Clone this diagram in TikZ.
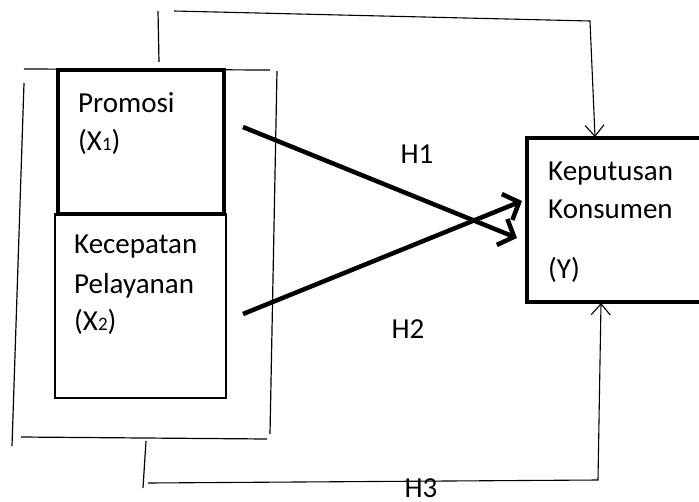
\documentclass[tikz,border=0pt]{standalone}
\usepackage{fontspec}
\setmainfont{Carlito}
\usetikzlibrary{arrows.meta}
\begin{document}
\begin{tikzpicture}[x=1pt,y=-1pt,
  lbl/.style={anchor=base west, inner sep=0pt, font=\fontsize{29}{35}\selectfont},
  hlbl/.style={anchor=base, inner sep=0pt, font=\fontsize{29}{35}\selectfont},
  thinline/.style={line width=1.2pt},
  bigarrow/.style={line width=4.5pt, -{Straight Barb[length=13pt,width=28pt,line width=4.5pt]}},
  thinarrow/.style={line width=1.1pt, -{Straight Barb[length=11pt,width=19pt,line width=1.1pt]}},
  varbox/.style={draw, rectangle, inner sep=0pt, outer sep=0pt}
]
\useasboundingbox (0,0) rectangle (699,501);
\clip (0,0) rectangle (699,501);
% boxes
\node[varbox, line width=1.8pt, minimum width=171pt, minimum height=184pt] (kec) at (140.5,306) {};
\node[varbox, line width=3.5pt, minimum width=166pt, minimum height=144pt] (pro) at (141,142) {};
\node[varbox, line width=4pt, minimum width=193pt, minimum height=164pt] (kep) at (623.5,220) {};
% texts
\node[lbl] (t1) at (78,112) {Promosi};
\node[lbl] (t2) at (78,150) {(X{\fontsize{19}{20}\selectfont 1})};
\node[lbl] (t3) at (74,253) {Kecepatan};
\node[lbl] (t4) at (74,293) {Pelayanan};
\node[lbl] (t5) at (74,330) {(X{\fontsize{19}{20}\selectfont 2})};
\node[lbl] (t6) at (548,180) {Keputusan};
\node[lbl] (t7) at (548,218) {Konsumen};
\node[lbl] (t8) at (548,278) {(Y)};
\node[hlbl] (h1) at (417,163) {H1};
\node[hlbl] (h2) at (408,338) {H2};
\node[hlbl] (h3) at (421,497) {H3};
% bracket lines
\draw[thinline] (24,69) -- (270,70);
\draw[thinline] (24,83) -- (12,446);
\draw[thinline] (277,71) -- (270,434);
\draw[thinline] (21,437) -- (267,439);
\draw[thinline] (158,11) -- (159,62);
\draw[thinline] (146,441) -- (143,488);
% coordinates
\coordinate (a1) at (243,127);
\coordinate (b1) at (517,238);
\coordinate (a2) at (243,314);
\coordinate (b2) at (522,201);
\coordinate (ts) at (174,11);
\coordinate (tc) at (590,21);
\coordinate (te) at (595,137);
\coordinate (bs) at (148,483);
\coordinate (bc) at (598,480);
\coordinate (be) at (601,303);
% connectors
\draw[bigarrow] (a1) -- (b1);
\draw[bigarrow] (a2) -- (b2);
\draw[thinarrow] (ts) -- (tc) -- (te);
\draw[thinarrow] (bs) -- (bc) -- (be);
\end{tikzpicture}
\end{document}
